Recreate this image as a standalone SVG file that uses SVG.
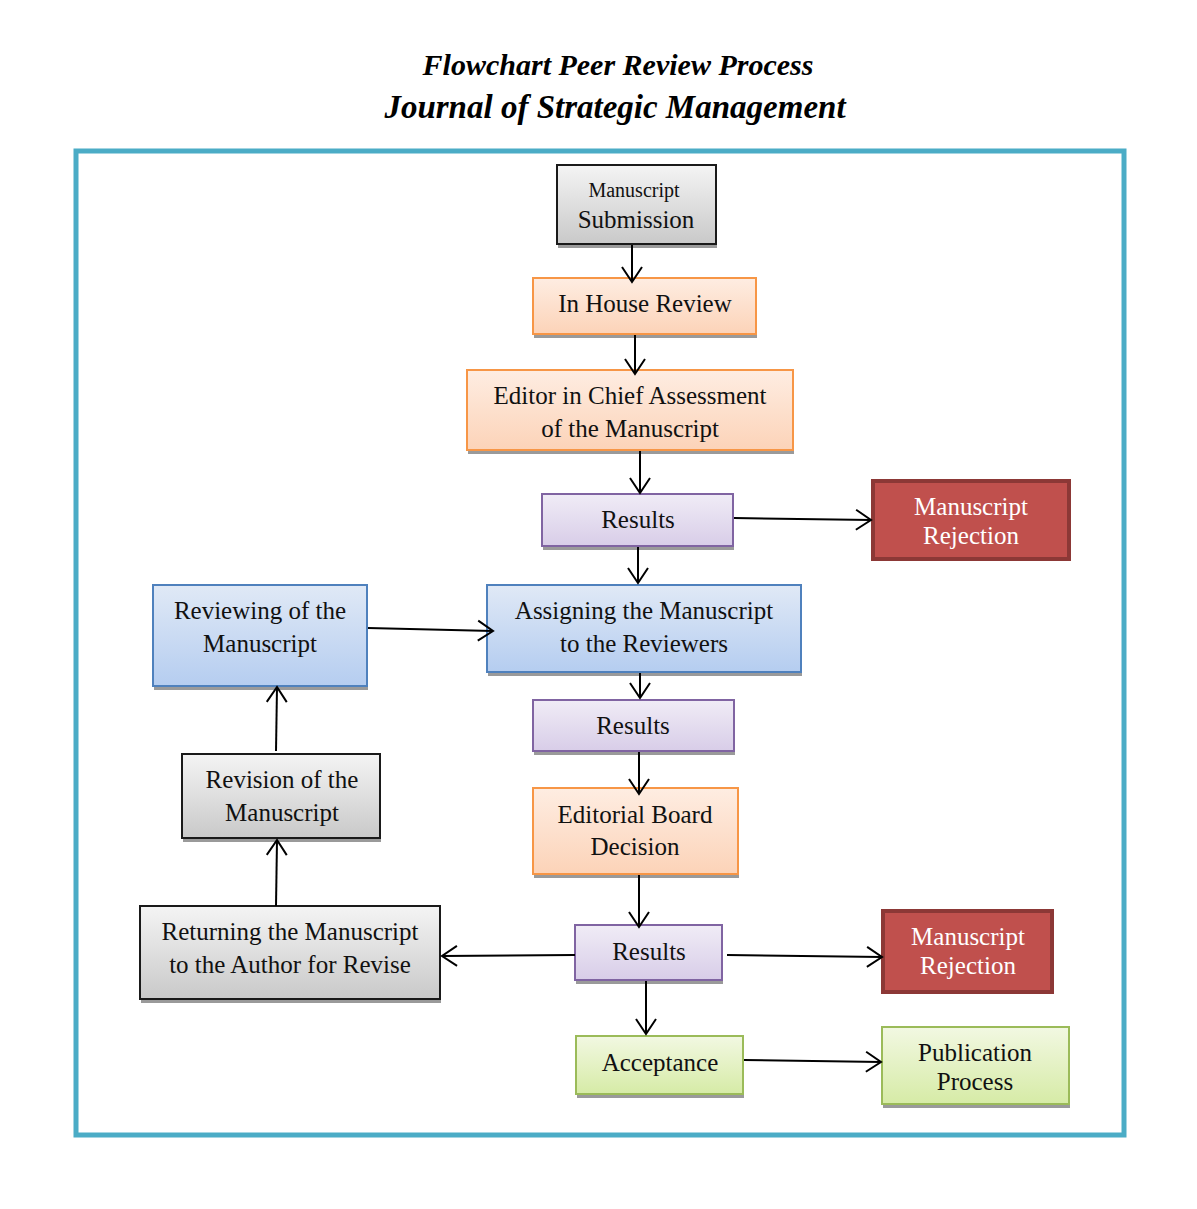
<svg xmlns="http://www.w3.org/2000/svg" width="1197" height="1209" viewBox="0 0 1197 1209">
<defs>
<linearGradient id="gGray" x1="0" y1="0" x2="0" y2="1"><stop offset="0" stop-color="#F4F4F4"/><stop offset="1" stop-color="#C9C9C9"/></linearGradient>
<linearGradient id="gPeach" x1="0" y1="0" x2="0" y2="1"><stop offset="0" stop-color="#FEEDE2"/><stop offset="1" stop-color="#FCD3B8"/></linearGradient>
<linearGradient id="gPurple" x1="0" y1="0" x2="0" y2="1"><stop offset="0" stop-color="#F0ECF6"/><stop offset="1" stop-color="#D8CDE8"/></linearGradient>
<linearGradient id="gBlue" x1="0" y1="0" x2="0" y2="1"><stop offset="0" stop-color="#E0E9F6"/><stop offset="1" stop-color="#B5CDF0"/></linearGradient>
<linearGradient id="gGreen" x1="0" y1="0" x2="0" y2="1"><stop offset="0" stop-color="#F2F8E2"/><stop offset="1" stop-color="#D6EBA6"/></linearGradient>
<marker id="arr" markerUnits="userSpaceOnUse" markerWidth="24" markerHeight="24" viewBox="0 0 24 24" refX="20" refY="12" orient="auto">
<path d="M5,2 L20,12 L5,22" fill="none" stroke="#000" stroke-width="2"/>
</marker>
</defs>
<style>
.t{font-family:"Liberation Serif","Times New Roman",serif;font-size:25px;fill:#111;text-anchor:middle}
.t.s{font-size:20px}
.w{fill:#fff}
.title{font-family:"Liberation Serif","Times New Roman",serif;font-weight:bold;font-style:italic;fill:#000;text-anchor:middle}
.sh{fill:#9A9A9A}
.gray{fill:url(#gGray);stroke:#1a1a1a;stroke-width:2}
.peach{fill:url(#gPeach);stroke:#F79646;stroke-width:2}
.purple{fill:url(#gPurple);stroke:#8064A2;stroke-width:2}
.blue{fill:url(#gBlue);stroke:#4F81BD;stroke-width:2}
.green{fill:url(#gGreen);stroke:#9BBB59;stroke-width:2}
.red{fill:#C0504D;stroke:#8C3836;stroke-width:4}
.c line{stroke:#000;stroke-width:2;marker-end:url(#arr)}
</style>
<rect width="1197" height="1209" fill="#fff"/>
<text class="title" x="618" y="75" font-size="30">Flowchart Peer Review Process</text>
<text class="title" x="615" y="118" font-size="33">Journal of Strategic Management</text>
<rect x="76" y="151" width="1048" height="984" fill="none" stroke="#4BACC6" stroke-width="5"/>

<g id="n-submission">
<rect class="sh" x="558" y="168" width="159" height="80"/>
<rect class="gray" x="557" y="165" width="159" height="79"/>
<text class="t s" x="634" y="197">Manuscript</text>
<text class="t" x="636" y="228">Submission</text>
</g>
<g id="n-inhouse">
<rect class="sh" x="534" y="281" width="223" height="57"/>
<rect class="peach" x="533" y="278" width="223" height="56"/>
<text class="t" x="645" y="312">In House Review</text>
</g>
<g id="n-editor">
<rect class="sh" x="468" y="373" width="326" height="81"/>
<rect class="peach" x="467" y="370" width="326" height="80"/>
<text class="t" x="630" y="404">Editor in Chief Assessment</text>
<text class="t" x="630" y="437">of the Manuscript</text>
</g>
<g id="n-results1">
<rect class="sh" x="543" y="497" width="191" height="53"/>
<rect class="purple" x="542" y="494" width="191" height="52"/>
<text class="t" x="638" y="528">Results</text>
</g>
<g id="n-reject1">
<rect class="red" x="873" y="481" width="196" height="78"/>
<text class="t w" x="971" y="515">Manuscript</text>
<text class="t w" x="971" y="544">Rejection</text>
</g>
<g id="n-reviewing">
<rect class="sh" x="154" y="588" width="214" height="102"/>
<rect class="blue" x="153" y="585" width="214" height="101"/>
<text class="t" x="260" y="619">Reviewing of the</text>
<text class="t" x="260" y="652">Manuscript</text>
</g>
<g id="n-assigning">
<rect class="sh" x="488" y="588" width="314" height="88"/>
<rect class="blue" x="487" y="585" width="314" height="87"/>
<text class="t" x="644" y="619">Assigning the Manuscript</text>
<text class="t" x="644" y="652">to the Reviewers</text>
</g>
<g id="n-results2">
<rect class="sh" x="534" y="703" width="201" height="52"/>
<rect class="purple" x="533" y="700" width="201" height="51"/>
<text class="t" x="633" y="734">Results</text>
</g>
<g id="n-board">
<rect class="sh" x="534" y="791" width="205" height="87"/>
<rect class="peach" x="533" y="788" width="205" height="86"/>
<text class="t" x="635" y="823">Editorial Board</text>
<text class="t" x="635" y="855">Decision</text>
</g>
<g id="n-revision">
<rect class="sh" x="183" y="757" width="198" height="85"/>
<rect class="gray" x="182" y="754" width="198" height="84"/>
<text class="t" x="282" y="788">Revision of the</text>
<text class="t" x="282" y="821">Manuscript</text>
</g>
<g id="n-returning">
<rect class="sh" x="141" y="909" width="300" height="94"/>
<rect class="gray" x="140" y="906" width="300" height="93"/>
<text class="t" x="290" y="940">Returning the Manuscript</text>
<text class="t" x="290" y="973">to the Author for Revise</text>
</g>
<g id="n-results3">
<rect class="sh" x="576" y="928" width="147" height="56"/>
<rect class="purple" x="575" y="925" width="147" height="55"/>
<text class="t" x="649" y="960">Results</text>
</g>
<g id="n-reject2">
<rect class="red" x="883" y="911" width="169" height="81"/>
<text class="t w" x="968" y="945">Manuscript</text>
<text class="t w" x="968" y="974">Rejection</text>
</g>
<g id="n-acceptance">
<rect class="sh" x="577" y="1039" width="167" height="59"/>
<rect class="green" x="576" y="1036" width="167" height="58"/>
<text class="t" x="660" y="1071">Acceptance</text>
</g>
<g id="n-publication">
<rect class="sh" x="883" y="1030" width="187" height="78"/>
<rect class="green" x="882" y="1027" width="187" height="77"/>
<text class="t" x="975" y="1061">Publication</text>
<text class="t" x="975" y="1090">Process</text>
</g>

<g class="c">
<line x1="632" y1="245" x2="632" y2="282"/>
<line x1="635" y1="335" x2="635" y2="374"/>
<line x1="640" y1="451" x2="640" y2="493"/>
<line x1="734" y1="518" x2="871" y2="520"/>
<line x1="638" y1="547" x2="638" y2="583"/>
<line x1="368" y1="628" x2="493" y2="631"/>
<line x1="640" y1="673" x2="640" y2="698"/>
<line x1="639" y1="752" x2="639" y2="794"/>
<line x1="276" y1="751" x2="277" y2="687"/>
<line x1="276" y1="906" x2="277" y2="840"/>
<line x1="639" y1="875" x2="639" y2="927"/>
<line x1="575" y1="955" x2="442" y2="956"/>
<line x1="727" y1="955" x2="882" y2="957"/>
<line x1="646" y1="981" x2="646" y2="1034"/>
<line x1="744" y1="1060" x2="881" y2="1062"/>
</g>
</svg>
